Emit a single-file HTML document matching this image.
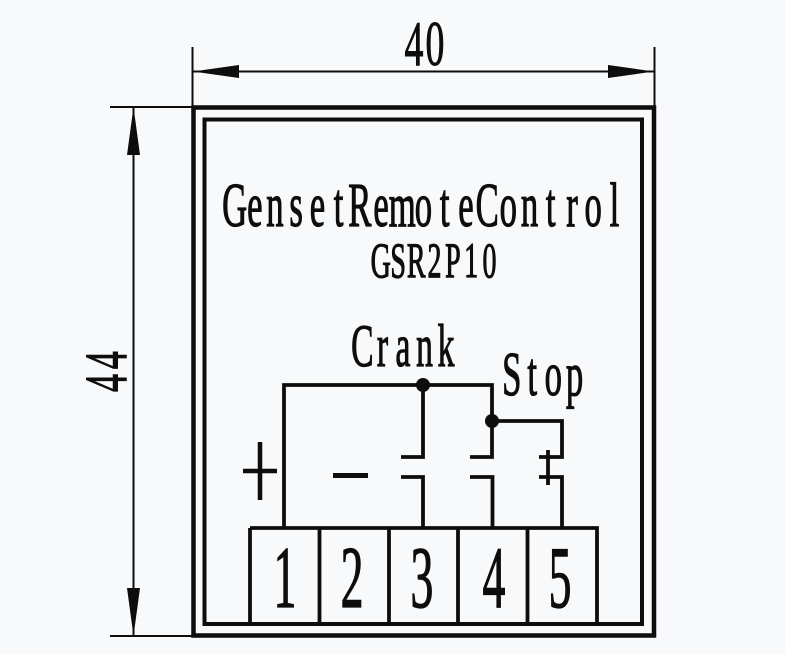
<!DOCTYPE html>
<html><head><meta charset="utf-8"><style>
html,body{margin:0;padding:0;background:#f8f9fb;width:785px;height:654px;overflow:hidden}
svg{display:block}
text{font-family:"Liberation Serif",serif;fill:#0a0a0a;stroke:#0a0a0a;text-anchor:middle}
</style></head><body>
<svg width="785" height="654" viewBox="0 0 785 654" xmlns="http://www.w3.org/2000/svg">
<defs><filter id="b" filterUnits="userSpaceOnUse" x="0" y="0" width="785" height="654"><feGaussianBlur stdDeviation="0.35"/></filter></defs>
<rect width="785" height="654" fill="#f8f9fb"/>
<g filter="url(#b)">
<g fill="none" stroke="#0a0a0a">
<path stroke-width="2" d="M192.500 47V107M654.500 47V107M110 107H192M110 636H192M193 71.500H654M133.500 107V636"/>
<rect x="193.500" y="107.500" width="460.500" height="528" stroke-width="4.500"/>
<rect x="204.500" y="119.500" width="437.500" height="504.500" stroke-width="4"/>
<g stroke-width="3.800">
<path d="M284 528V385H492V457H470"/>
<path d="M423 385V457H401M401 477H423V528M470 477H492.500V528"/>
<path d="M492 421H562V457H539M539 477H562V528M548 450V485"/>
<path d="M250 528H597V624M250 528V624M319.500 528V624M389 528V624M458 528V624M527.500 528V624"/>
</g>
<path stroke-width="4.500" d="M243 471H277M260 442V500"/>
<path stroke-width="5" d="M333 475.500H368"/>
</g>
<g fill="#0a0a0a">
<path d="M193 71.500L239 65V78ZM654 71.500L608 65V78ZM133.500 107L127 155H140ZM133.500 636L127 588H140Z"/>
<circle cx="423" cy="385" r="7"/>
<circle cx="492" cy="421" r="7"/>
</g>
<text transform="translate(0 65) scale(.6 1)" x="690 725" y="0" font-size="63" stroke-width="1">40</text>
<text transform="translate(126 392) rotate(-90) scale(.6 1)" x="15 53" y="0" font-size="60" stroke-width="1">44</text>
<text transform="translate(0 226) scale(.56 1)" x="419 455 491 528.900 566.800 604.700 642.500 680.400 718.300 756.200 794.100 832 869.900 907.800 945.600 983.500 1021.400 1059.300 1097.200" y="0" font-size="62" stroke-width="1.200">GensetRemoteControl</text>
<text transform="translate(0 277) scale(.56 1)" x="680 711 743.200 775.900 808.700 841.400 874.100" y="0" font-size="50" stroke-width="1.200">GSR2P10</text>
<text transform="translate(0 366) scale(.56 1)" x="647 683 719.600 758 796.400" y="0" font-size="60" stroke-width="1.200">Crank</text>
<text transform="translate(0 395) scale(.56 1)" x="914 950.300 988 1025.900" y="0" font-size="62" stroke-width="1.200">Stop</text>
<text transform="translate(0 607) scale(.52 1)" x="548 677 811.500 950 1077" y="0" font-size="88" stroke-width="1.300">12345</text>
</g>
</svg>
</body></html>
